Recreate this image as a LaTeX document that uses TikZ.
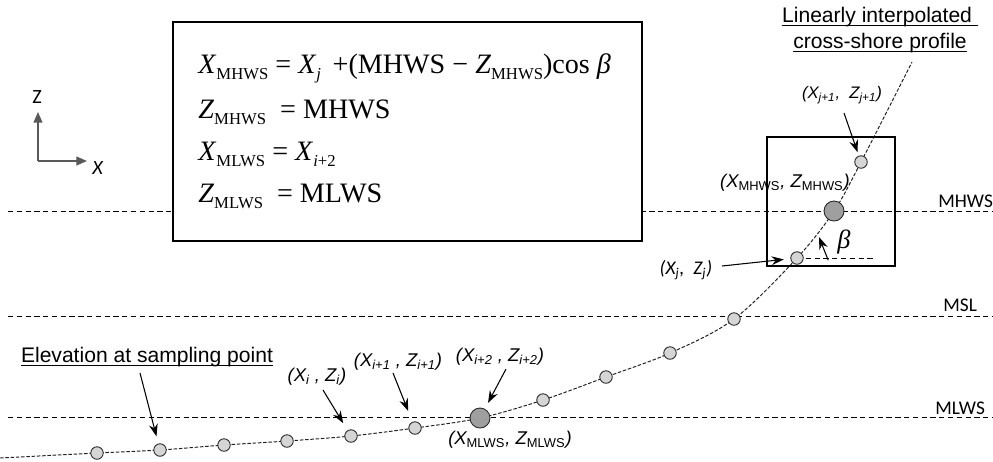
\documentclass[tikz,border=0pt]{standalone}
\usepackage{fontspec}
\setmainfont{Liberation Sans}
\newfontfamily\tmsfont{Liberation Serif}
\newfontfamily\calfont{Carlito}
\usetikzlibrary{arrows.meta}

\newcommand\fsb[1]{\raisebox{-3.5pt}{\fontsize{9.5}{10}\selectfont #1}}
\newcommand\lsb[1]{\textsubscript{#1}}
\newcommand\ulin[1]{\setbox0\hbox{#1}\rlap{\rule[-1.8pt]{\wd0}{0.5pt}}\box0}

\tikzset{
  level/.style={dash pattern=on 3pt off 2pt, line width=0.5pt},
  profile/.style={dash pattern=on 2pt off 1pt, line width=0.55pt, gray!25!black},
  sample/.style={circle, draw=gray!30!black, fill=gray!33, line width=0.5pt, minimum size=0.25cm, inner sep=0pt},
  keypt/.style={sample, fill=gray!75, minimum size=0.4cm},
  pointer/.style={-{Stealth[length=7pt,width=5pt]}, line width=0.6pt},
  axisarrow/.style={-{Triangle[length=6pt,width=5pt]}, draw=gray!70!black, line width=0.8pt},
  coordlbl/.style={inner sep=1pt, font=\fontsize{10.5}{12}\selectfont\itshape},
  levellbl/.style={anchor=west, inner sep=0pt, font=\calfont\fontsize{11}{13}\selectfont},
  formula/.style={anchor=base west, inner sep=0pt, font=\tmsfont\fontsize{16}{20}\selectfont},
}

\begin{document}
\begin{tikzpicture}[x=0.02cm, y=-0.02cm]
  \useasboundingbox (0,0) rectangle (993,461);
  % tide levels
  \draw[level] (8,211) -- (993,211);
  \draw[level] (8,316) -- (993,316);
  \draw[level] (8,417) -- (993,417);
  \node[levellbl] (mhws) at (938,201) {MHWS};
  \node[levellbl] (msl) at (943,305) {MSL};
  \node[levellbl] (mlws) at (935,408) {MLWS};

  % formula box
  \draw[fill=white, line width=0.6pt] (173,22) rectangle (642,241);
  \node[formula] (f1) at (198,73) {\textit{X}\fsb{MHWS} = \textit{X}\fsb{\textit{j}}\, +(MHWS − \textit{Z}\fsb{MHWS})cos \textit{β}};
  \node[formula] (f2) at (198,118) {\textit{Z}\fsb{MHWS}\ \ = MHWS};
  \node[formula] (f3) at (198,160) {\textit{X}\fsb{MLWS} = \textit{X}\fsb{\textit{i}+2}};
  \node[formula] (f4) at (198,202) {\textit{Z}\fsb{MLWS}\ \ = MLWS};

  % axes
  \coordinate (orig) at (38,161);
  \coordinate (ztip) at (38,112);
  \coordinate (xtip) at (87,161);
  \draw[axisarrow] (orig) -- (ztip);
  \draw[axisarrow] (orig) -- (xtip);
  \node[font=\calfont\fontsize{11.5}{13}\selectfont] (zlbl) at (37,97) {Z};
  \node[font=\calfont\fontsize{11.5}{13}\selectfont] (xlbl) at (98,168) {\textit{X}};

  % cross-shore profile and sampling points
  \foreach \n/\px/\py in {1/97/453, 2/160/450, 3/224/445, 4/287/441, 5/351/436,
      6/415/428, 7/480/418, 8/543/400, 9/606/377, 10/670/353, 11/734/319,
      12/797/258, 13/834/211, 14/861/162}
    \coordinate (c\n) at (\px,\py);
  \draw[profile] plot[smooth, tension=0.55] coordinates {(0,458) (c1) (c2) (c3) (c4)
      (c5) (c6) (c7) (c8) (c9) (c10) (c11) (c12) (c13) (c14) (912,62)};
  \draw[line width=0.6pt] (767,137) rectangle (895,266);
  \coordinate (bend) at (873,258);
  \draw[level] (c12) -- (bend);
  \foreach \n in {1,...,6,8,9,10,11,12,14}
    \node[sample] (p\n) at (c\n) {};
  \node[keypt] (p7) at (c7) {};
  \node[keypt] (p13) at (c13) {};

  % labels
  \node[font=\fontsize{12}{14}\selectfont] (samp) at (147,357) {\ulin{Elevation at sampling point}};
  \node[align=center, font=\fontsize{12}{14.7}\selectfont] (lprof) at (880,30)
    {\ulin{Linearly interpolated\ }\\\ulin{cross-shore profile}};
  \node[coordlbl] (lxi) at (317,377) {(X\lsb{i} , Z\lsb{i})};
  \node[coordlbl] (lxi1) at (398,362) {(X\lsb{i+1} , Z\lsb{i+1})};
  \node[coordlbl] (lxi2) at (500,357) {(X\lsb{i+2} , Z\lsb{i+2})};
  \node[coordlbl] (lmlws) at (510,440) {(X\lsb{\upshape MLWS}, Z\lsb{\upshape MLWS})};
  \node[coordlbl] (lmhws) at (785,183) {(X\lsb{\upshape MHWS}, Z\lsb{\upshape MHWS})};
  \node[coordlbl, font=\calfont\fontsize{11}{12}\selectfont\itshape] (lxj) at (686,270) {(X\lsb{j},\ \ Z\lsb{j})};
  \node[coordlbl, font=\fontsize{9.5}{11}\selectfont\itshape] (lxj1) at (842,95) {(X\lsb{j+1},\ \ Z\lsb{j+1})};
  \node[font=\tmsfont\fontsize{15}{16}\selectfont\itshape] (beta) at (844,242) {β};

  % pointers
  \foreach \n/\px/\py in {samp/140/373, xi/323/390, xi1/393/373, xi2/506/369,
      xj/722/266, xj1/844/113}
    \coordinate (\n-tail) at (\px,\py);
  \coordinate (bhead) at (819,237);
  \draw[pointer, shorten >=4.2pt] (samp-tail) -- (p2);
  \draw[pointer, shorten >=4.7pt] (xi-tail) -- (p5);
  \draw[pointer, shorten >=6.6pt] (xi1-tail) -- (p6);
  \draw[pointer, shorten >=3.8pt] (xi2-tail) -- (p7);
  \draw[pointer, shorten >=3.7pt] (xj-tail) -- (p12);
  \draw[pointer, shorten >=2pt] (xj1-tail) -- (p14);
  \draw[pointer] ([xshift=-0.06cm]beta.south west) -- (bhead);
\end{tikzpicture}
\end{document}
